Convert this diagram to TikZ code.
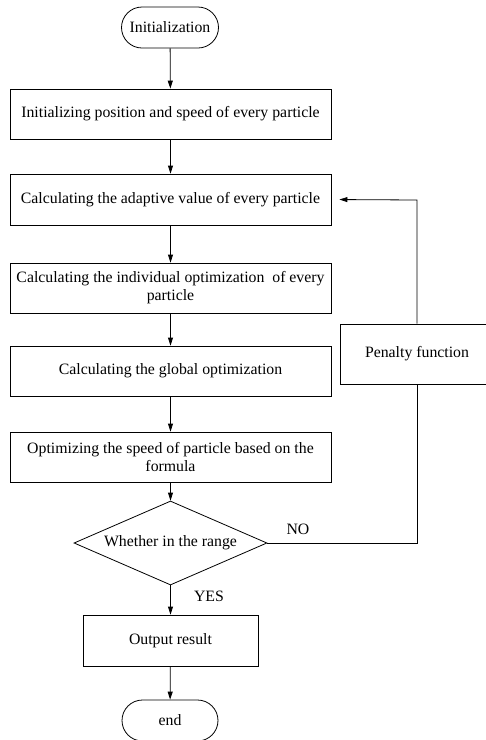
\documentclass[tikz,border=0pt]{standalone}
\usepackage{fontspec}
\setmainfont{Liberation Serif}
\usetikzlibrary{shapes.geometric,shapes.misc,arrows.meta}
\begin{document}
\begin{tikzpicture}[x=1pt,y=-1pt,
  every node/.style={font=\fontsize{15.8}{18}\selectfont, inner sep=0pt, line width=0.8pt},
  proc/.style={draw, rectangle, minimum width=321pt, minimum height=50pt, align=center},
  term/.style={draw, rounded rectangle, minimum width=97pt, minimum height=41pt},
  dec/.style={draw, diamond, minimum width=193pt, minimum height=84pt, aspect=2.3},
  arr/.style={line width=0.8pt, -{Triangle[length=8pt,width=5pt]}},
  ln/.style={line width=0.8pt}]
\path[use as bounding box] (0,0) rectangle (486,740);
\clip (0,0) rectangle (486,740);
\node[term] (init) at (170,27.5) {Initialization};
\node[proc] (b1) at (170.5,114) {Initializing position and speed of every particle};
\node[proc, minimum height=51pt] (b2) at (170.5,199.5) {Calculating the adaptive value of every particle};
\node[proc] (b3) at (170.5,288) {Calculating the individual optimization\ \ of every\\particle};
\node[proc] (b4) at (170.5,371) {Calculating the global optimization};
\node[proc] (b5) at (170.5,457) {Optimizing the speed of particle based on the\\formula};
\node[dec] (d) at (170.5,543) {Whether in the range};
\node[proc, minimum width=175pt, minimum height=51pt] (out) at (170.5,640.5) {Output result};
\node[term, minimum width=96pt] (fin) at (170,720.5) {end};
\node[proc, minimum width=154pt, minimum height=60pt] (pen) at (417,354) {Penalty function};
\coordinate (c1) at (417,543);
\coordinate (c2) at (417,200);
\draw[arr] (init) -- (b1);
\draw[arr] (b1) -- (b2);
\draw[arr] (b2) -- (b3);
\draw[arr] (b3) -- (b4);
\draw[arr] (b4) -- (b5);
\draw[arr] (b5) -- (d);
\draw[arr] (d) -- (out);
\draw[arr] (out) -- (fin);
\draw[ln] (d.east) -- (c1) -- (pen.south);
\draw[arr, shorten >=8pt] (pen.north) -- (c2) -- (b2.east);
\node (no) at (298,529) {NO};
\node (yes) at (209,596) {YES};
\end{tikzpicture}
\end{document}
